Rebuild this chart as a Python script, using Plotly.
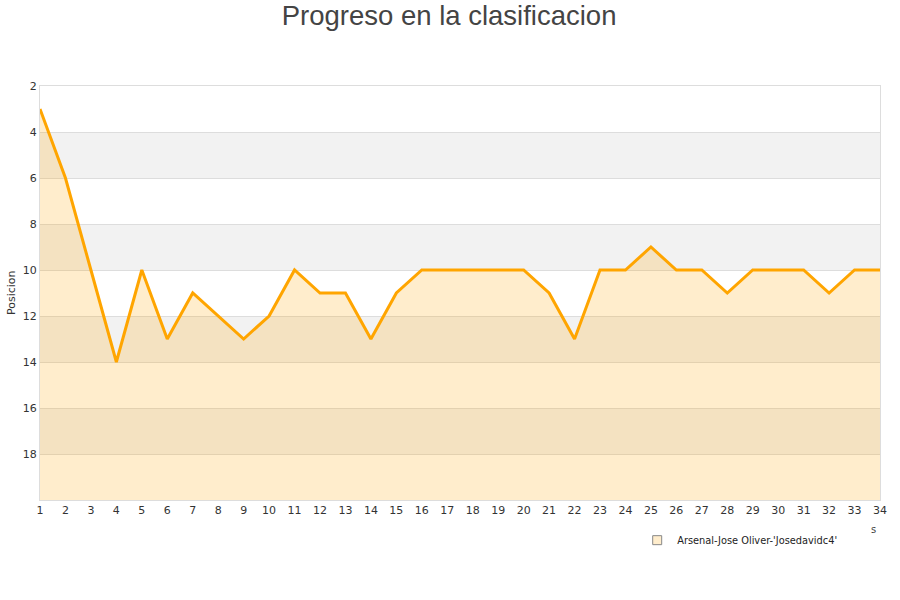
import plotly.graph_objects as go

jornadas = list(range(1, 35))
posiciones = [3, 6, 10, 14, 10, 13, 11, 12, 13, 12, 10, 11, 11, 13, 11, 10, 10, 10, 10, 10,
              11, 13, 10, 10, 9, 10, 10, 11, 10, 10, 10, 11, 10, 10]
y_ticks = [2, 4, 6, 8, 10, 12, 14, 16, 18]
bandas = [(4, 6), (8, 10), (12, 14), (16, 18)]
equipo = "Arsenal-Jose Oliver-'Josedavidc4'"

fig = go.Figure()

# base line at the bottom so the fill goes downwards on the reversed axis
fig.add_trace(go.Scatter(x=jornadas, y=[20] * len(jornadas), mode='lines',
                         line=dict(width=0), showlegend=False, hoverinfo='skip'))
fig.add_trace(go.Scatter(x=jornadas, y=posiciones, mode='lines', fill='tonexty',
                         fillcolor='rgba(255,165,0,0.2)',
                         line=dict(color='#FFA500', width=3), showlegend=False,
                         name=equipo))
# legend entry only
fig.add_trace(go.Scatter(x=[None], y=[None], mode='markers', name=equipo,
                         marker=dict(symbol='square', size=9, color='#FFEDCC',
                                     line=dict(color='#888888', width=1))))

for y0, y1 in bandas:
    fig.add_shape(type='rect', xref='paper', yref='y', x0=0, x1=1, y0=y0, y1=y1,
                  fillcolor='#F2F2F2', line_width=0, layer='below')

# y axis title as annotation (standoff is ignored without automargin)
fig.add_annotation(text='Posicion', xref='paper', yref='paper', x=-0.0345, y=0.5,
                   xanchor='center', yanchor='middle', textangle=-90, showarrow=False,
                   font=dict(size=11, color='#333333'))
fig.add_annotation(text='s', xref='paper', yref='paper', x=0.998, y=-0.089,
                   showarrow=False, font=dict(size=10, color='#444444'))

fig.update_layout(
    width=900, height=600,
    title=dict(text='Progreso en la clasificacion', x=0.499, y=0.975, xanchor='center',
               yanchor='middle',
               font=dict(family='Liberation Sans', size=27.5, color='#444444')),
    paper_bgcolor='white', plot_bgcolor='white',
    margin=dict(l=40, r=20, t=86, b=100, autoexpand=False),
    font=dict(family='DejaVu Sans', size=11, color='#333333'),
    showlegend=True,
    legend=dict(x=0.955, y=-0.097, xanchor='right', yanchor='middle',
                font=dict(size=9.8, color='#222222'), bgcolor='rgba(0,0,0,0)'),
    xaxis=dict(range=[1, 34], tickmode='array', tickvals=jornadas, showgrid=False,
               zeroline=False, showline=True, linecolor='#DDDDDD', mirror=True,
               ticks='', automargin=False, tickfont=dict(size=11, color='#333333')),
    yaxis=dict(range=[20, 2], tickmode='array', tickvals=y_ticks, showgrid=True,
               gridcolor='#DDDDDD', zeroline=False, showline=True, linecolor='#DDDDDD',
               mirror=True, ticks='', automargin=False,
               tickfont=dict(size=11, color='#333333')),
)

# drop the default page margin so the figure sits at the window corner
fig.write_html("out.html", config={'displayModeBar': False},
               post_script="document.body.style.margin='0';")
